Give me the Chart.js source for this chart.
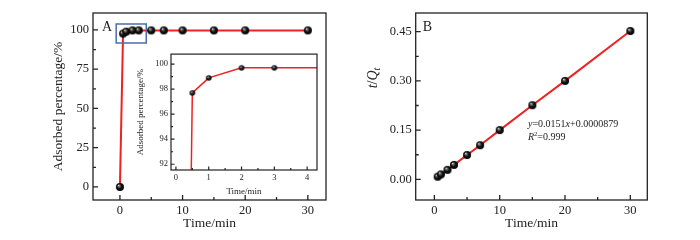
<!DOCTYPE html>
<html>
<head>
<meta charset="utf-8">
<script src="https://cdn.jsdelivr.net/npm/chart.js@4"></script>
<style>
  body { margin: 0; background: #fff; }
  #wrap { position: relative; width: 700px; height: 240px; }
  canvas { position: absolute; }
</style>
</head>
<body>
<div id="wrap">
  <canvas id="grafA" width="350" height="240" style="left:0;top:0;width:350px;height:240px"></canvas>
  <canvas id="grafInset" width="195" height="154" style="left:128px;top:46px;width:195px;height:154px"></canvas>
  <canvas id="grafB" width="350" height="240" style="left:350px;top:0;width:350px;height:240px"></canvas>
</div>
<script>
// dados
const tempoA = [0, 0.5, 1, 2, 3, 5, 7, 10, 15, 20, 30];
const adsorvidoA = [0, 97.7, 98.9, 99.7, 99.7, 99.7, 99.7, 99.7, 99.7, 99.7, 99.7];
const tempoB = [0.5, 1, 2, 3, 5, 7, 10, 15, 20, 30];
const tQtB = [0.008, 0.015, 0.029, 0.044, 0.074, 0.104, 0.150, 0.226, 0.300, 0.452];

// ticks
const ticksXA = [0, 10, 20, 30];
const menoresXA = [5, 15, 25];
const ticksYA = [0, 25, 50, 75, 100];
const menoresYA = [12.5, 37.5, 62.5, 87.5];
const ticksXInset = [0, 1, 2, 3, 4];
const menoresXInset = [0.5, 1.5, 2.5, 3.5];
const ticksYInset = [92, 94, 96, 98, 100];
const menoresYInset = [93, 95, 97, 99];
const ticksXB = [0, 10, 20, 30];
const menoresXB = [5, 15, 25];
const ticksYB = [0, 0.15, 0.30, 0.45];
const menoresYB = [0.075, 0.225, 0.375];

// janela do zoom (retangulo azul) em coordenadas de dados
const janelaX = [-0.6, 4.2];
const janelaY = [91.7, 103.8];

const serif = "'Liberation Serif', 'DejaVu Serif', serif";
const vermelho = '#ee2222';
const corEixo = '#222';

function esfera(r) {
    const c = document.createElement('canvas');
    const s = Math.ceil(2 * r + 2);
    c.width = c.height = s;
    const g = c.getContext('2d');
    const m = s / 2;
    const grad = g.createRadialGradient(m - r * 0.35, m - r * 0.4, 0, m, m, r);
    grad.addColorStop(0, '#f4f4f4');
    grad.addColorStop(0.22, '#777');
    grad.addColorStop(0.55, '#161616');
    grad.addColorStop(1, '#000');
    g.fillStyle = grad;
    g.beginPath();
    g.arc(m, m, r, 0, Math.PI * 2);
    g.fill();
    return c;
}

// escreve pedacos de texto (italico, subscrito...) em sequencia
function escrever(ctx, partes, x, y, alinhamento) {
    let total = 0;
    partes.forEach(p => {
        ctx.font = (p.it ? 'italic ' : '') + p.tam + 'px ' + serif;
        total += ctx.measureText(p.t).width;
    });
    let cx = x;
    if (alinhamento === 'center') cx = x - total / 2;
    ctx.textAlign = 'left';
    ctx.textBaseline = 'alphabetic';
    partes.forEach(p => {
        ctx.font = (p.it ? 'italic ' : '') + p.tam + 'px ' + serif;
        ctx.fillText(p.t, cx, y + (p.dy || 0));
        cx += ctx.measureText(p.t).width;
    });
}

const moldura = {
    id: 'moldura',
    afterDraw(chart, args, o) {
        const { ctx, chartArea: { left, right, top, bottom }, scales: { x, y } } = chart;
        ctx.save();
        ctx.strokeStyle = corEixo;
        ctx.lineWidth = o.lw;
        ctx.beginPath();
        o.xMaior.forEach(v => { const p = x.getPixelForValue(v); ctx.moveTo(p, bottom); ctx.lineTo(p, bottom - o.tam); });
        o.xMenor.forEach(v => { const p = x.getPixelForValue(v); ctx.moveTo(p, bottom); ctx.lineTo(p, bottom - o.tam * 0.6); });
        o.yMaior.forEach(v => { const p = y.getPixelForValue(v); ctx.moveTo(left, p); ctx.lineTo(left + o.tam, p); });
        o.yMenor.forEach(v => { const p = y.getPixelForValue(v); ctx.moveTo(left, p); ctx.lineTo(left + o.tam * 0.6, p); });
        ctx.stroke();
        ctx.strokeRect(left, top, right - left, bottom - top);
        ctx.restore();
    }
};

function eixo(min, max, valores, tam, pad, casas, largura, altura) {
    return {
        type: 'linear',
        min: min,
        max: max,
        grid: { display: false, drawTicks: false },
        border: { display: false },
        afterBuildTicks: s => { s.ticks = valores.map(v => ({ value: v })); },
        afterFit: s => {
            if (largura) s.width = largura;
            if (altura) s.height = altura;
        },
        ticks: {
            color: corEixo,
            padding: pad,
            maxRotation: 0,
            autoSkip: false,
            font: { family: serif, size: tam },
            callback: v => v.toFixed(casas)
        }
    };
}

function pontos(xs, ys) {
    return xs.map((t, i) => ({ x: t, y: ys[i] }));
}

// ---- Grafico A ----
new Chart(document.getElementById('grafA'), {
    type: 'scatter',
    data: {
        datasets: [{
            data: pontos(tempoA, adsorvidoA),
            showLine: true,
            borderColor: vermelho,
            borderWidth: 2,
            pointStyle: esfera(4),
            pointRadius: 4
        }]
    },
    options: {
        responsive: false,
        animation: false,
        devicePixelRatio: 1,
        layout: { padding: { left: 20, top: 13, right: 24, bottom: 0 } },
        scales: {
            x: eixo(-4.3, 32.9, ticksXA, 12.5, 3, 0, null, 40),
            y: eixo(-8.3, 110.8, ticksYA, 12.5, 4, 0, 73, null)
        },
        plugins: {
            legend: { display: false },
            tooltip: { enabled: false },
            moldura: { xMaior: ticksXA, xMenor: menoresXA, yMaior: ticksYA, yMenor: menoresYA, tam: 5, lw: 1.3 }
        }
    },
    plugins: [moldura, {
        id: 'textosA',
        afterDraw(chart) {
            const { ctx, chartArea: a, scales: { x, y } } = chart;
            ctx.save();
            ctx.fillStyle = corEixo;
            // retangulo azul
            ctx.strokeStyle = '#4a6ea9';
            ctx.lineWidth = 1.5;
            const x0 = x.getPixelForValue(janelaX[0]), x1 = x.getPixelForValue(janelaX[1]);
            const y0 = y.getPixelForValue(janelaY[1]), y1 = y.getPixelForValue(janelaY[0]);
            ctx.strokeRect(x0, y0, x1 - x0, y1 - y0);
            escrever(ctx, [{ t: 'A', tam: 14 }], a.left + 9, a.top + 18);
            escrever(ctx, [{ t: 'Time/min', tam: 13.5 }], (a.left + a.right) / 2, 227, 'center');
            ctx.translate(a.left - 31, (a.top + a.bottom) / 2);
            ctx.rotate(-Math.PI / 2);
            escrever(ctx, [{ t: 'Adsorbed percentage/%', tam: 13.5 }], 0, 0, 'center');
            ctx.restore();
        }
    }]
});

// ---- Inset ----
new Chart(document.getElementById('grafInset'), {
    type: 'scatter',
    data: {
        datasets: [{
            data: pontos(tempoA, adsorvidoA),
            showLine: true,
            borderColor: vermelho,
            borderWidth: 1.5,
            pointStyle: esfera(2.8),
            pointRadius: 3
        }]
    },
    options: {
        responsive: false,
        animation: false,
        devicePixelRatio: 1,
        layout: { padding: { left: 20, top: 4, right: 6, bottom: 0 } },
        scales: {
            x: eixo(-0.15, 4.3, ticksXInset, 8.5, 3, 0, null, 30),
            y: eixo(91.54, 100.8, ticksYInset, 8.5, 3, 0, 23, null)
        },
        plugins: {
            legend: { display: false },
            tooltip: { enabled: false },
            moldura: { xMaior: ticksXInset, xMenor: menoresXInset, yMaior: ticksYInset, yMenor: menoresYInset, tam: 3.5, lw: 1.2 }
        }
    },
    plugins: [moldura, {
        id: 'textosInset',
        afterDraw(chart) {
            const { ctx, chartArea: a } = chart;
            ctx.save();
            ctx.fillStyle = corEixo;
            escrever(ctx, [{ t: 'Time/min', tam: 9 }], (a.left + a.right) / 2, 148, 'center');
            ctx.translate(a.left - 28, (a.top + a.bottom) / 2);
            ctx.rotate(-Math.PI / 2);
            escrever(ctx, [{ t: 'Adsorbed percentage/%', tam: 9 }], 0, 0, 'center');
            ctx.restore();
        }
    }]
});

// ---- Grafico B ----
new Chart(document.getElementById('grafB'), {
    type: 'scatter',
    data: {
        datasets: [{
            data: pontos(tempoB, tQtB),
            showLine: true,
            borderColor: vermelho,
            borderWidth: 2,
            pointStyle: esfera(4),
            pointRadius: 4
        }]
    },
    options: {
        responsive: false,
        animation: false,
        devicePixelRatio: 1,
        layout: { padding: { left: 20, top: 13, right: 52.7, bottom: 0 } },
        scales: {
            x: eixo(-2.86, 32.6, ticksXB, 12.5, 3, 0, null, 40),
            y: eixo(-0.063, 0.507, ticksYB, 12.5, 4, 2, 45.7, null)
        },
        plugins: {
            legend: { display: false },
            tooltip: { enabled: false },
            moldura: { xMaior: ticksXB, xMenor: menoresXB, yMaior: ticksYB, yMenor: menoresYB, tam: 5, lw: 1.3 }
        }
    },
    plugins: [moldura, {
        id: 'textosB',
        afterDraw(chart) {
            const { ctx, chartArea: a } = chart;
            ctx.save();
            ctx.fillStyle = corEixo;
            escrever(ctx, [{ t: 'B', tam: 14 }], a.left + 7, a.top + 18);
            escrever(ctx, [{ t: 'Time/min', tam: 13.5 }], (a.left + a.right) / 2, 227, 'center');
            // equacao do ajuste
            escrever(ctx, [
                { t: 'y', tam: 10, it: true }, { t: '=0.0151', tam: 10 },
                { t: 'x', tam: 10, it: true }, { t: '+0.0000879', tam: 10 }
            ], 178, 127);
            escrever(ctx, [
                { t: 'R', tam: 10, it: true }, { t: '2', tam: 6.5, dy: -4 }, { t: '=0.999', tam: 10 }
            ], 178, 140);
            ctx.translate(27, 78);
            ctx.rotate(-Math.PI / 2);
            escrever(ctx, [
                { t: 't', tam: 14, it: true }, { t: '/', tam: 14 },
                { t: 'Q', tam: 14, it: true }, { t: 't', tam: 10, it: true, dy: 3 }
            ], 0, 0, 'center');
            ctx.restore();
        }
    }]
});
</script>
</body>
</html>
